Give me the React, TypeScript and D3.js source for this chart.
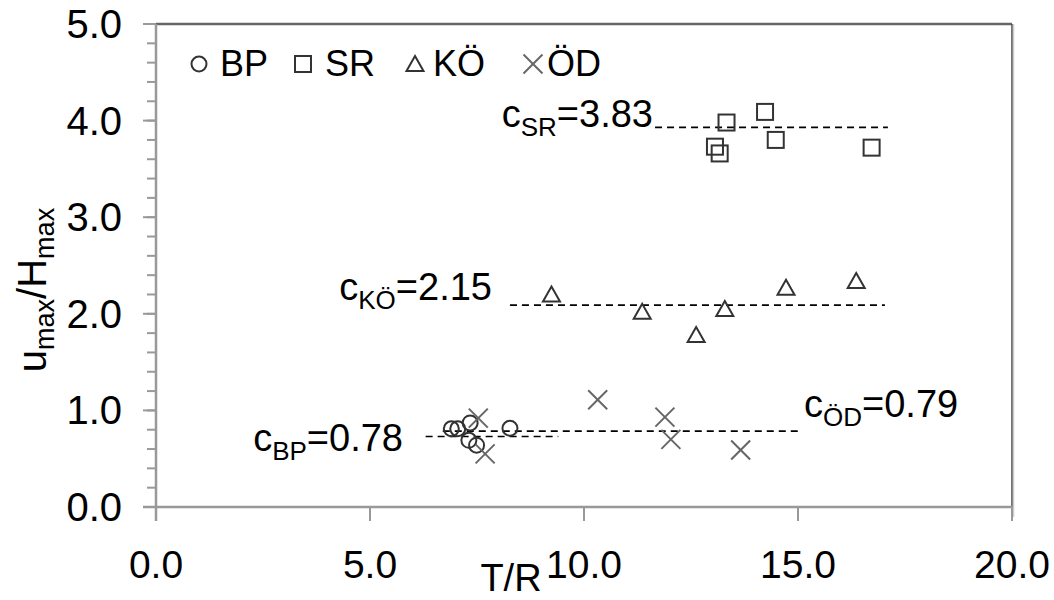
import React from "react";
import * as d3 from "d3";

const xTicks = [0, 5, 10, 15, 20];
const yTicks = [0, 1, 2, 3, 4, 5];
const xTickLabels = ["0.0", "5.0", "10.0", "15.0", "20.0"];
const yTickLabels = ["0.0", "1.0", "2.0", "3.0", "4.0", "5.0"];

const bpX = [6.9, 7.05, 7.34, 7.31, 7.49, 8.27];
const bpY = [0.81, 0.81, 0.87, 0.69, 0.64, 0.815];
const srX = [13.33, 14.23, 14.48, 13.06, 13.17, 16.72];
const srY = [3.98, 4.09, 3.8, 3.73, 3.66, 3.72];
const koX = [9.24, 11.36, 12.62, 13.29, 14.72, 16.36];
const koY = [2.2, 2.02, 1.78, 2.05, 2.27, 2.34];
const odX = [7.53, 7.69, 10.32, 11.89, 12.03, 13.66];
const odY = [0.92, 0.55, 1.11, 0.93, 0.7, 0.59];

// fitted constant lines: [x0, x1, y]
const srLine = [11.66, 17.1, 3.93];
const koLine = [8.27, 17.03, 2.09];
const bpLine = [6.3, 9.4, 0.73];
const odLine = [6.7, 15.05, 0.785];

const cValues = { SR: "3.83", KO: "2.15", BP: "0.78", OD: "0.79" };

const FONT = "'Liberation Sans', Arial, Helvetica, sans-serif";
const W = 1054;
const H = 600;
const left = 156, right = 1012, top = 24, bottom = 507;

const x = d3.scaleLinear().domain([0, 20]).range([left, right]);
const y = d3.scaleLinear().domain([0, 5]).range([bottom, top]);

const MK = "#333";

function Circle({ cx, cy }: { cx: number; cy: number }) {
  return <circle cx={cx} cy={cy} r={7.5} fill="none" stroke={MK} strokeWidth={2} />;
}
function Square({ cx, cy }: { cx: number; cy: number }) {
  return <rect x={cx - 8} y={cy - 8} width={16} height={16} fill="none" stroke={MK} strokeWidth={2} />;
}
function Tri({ cx, cy }: { cx: number; cy: number }) {
  const p = d3.path();
  p.moveTo(cx, cy - 8);
  p.lineTo(cx + 8.5, cy + 7);
  p.lineTo(cx - 8.5, cy + 7);
  p.closePath();
  return <path d={p.toString()} fill="none" stroke={MK} strokeWidth={2} strokeLinejoin="miter" />;
}
function Cross({ cx, cy }: { cx: number; cy: number }) {
  const s = 9.5;
  return (
    <g stroke="#666" strokeWidth={2}>
      <line x1={cx - s} y1={cy - s} x2={cx + s} y2={cy + s} />
      <line x1={cx - s} y1={cy + s} x2={cx + s} y2={cy - s} />
    </g>
  );
}

function FitLine({ l }: { l: number[] }) {
  return (
    <line x1={x(l[0])} x2={x(l[1])} y1={y(l[2])} y2={y(l[2])} stroke="#000" strokeWidth={1.6} strokeDasharray="7,5" />
  );
}

function CLabel({ px, py, sub, val, anchor }: { px: number; py: number; sub: string; val: string; anchor: string }) {
  return (
    <text x={px} y={py} fontSize={38} fontFamily={FONT} fill="#000" textAnchor={anchor}>
      c
      <tspan fontSize={26} dy={9}>{sub}</tspan>
      <tspan dy={-9}>={val}</tspan>
    </text>
  );
}

export default function App() {
  const minorY = d3.range(0, 5.0001, 0.2);
  return (
    <svg width={W} height={H} style={{ position: "absolute", left: 0, top: 0, background: "#fff" }}>
      <rect x={0} y={0} width={W} height={H} fill="#fff" />
      {/* plot frame */}
      <line x1={left} x2={right} y1={top} y2={top} stroke="#666" strokeWidth={2.5} />
      <line x1={right} x2={right} y1={top} y2={bottom} stroke="#444" strokeWidth={1.5} />
      <line x1={right + 1.5} x2={right + 1.5} y1={top} y2={bottom + 10} stroke="#ccc" strokeWidth={1.5} />
      {/* y axis */}
      <line x1={left} x2={left} y1={top} y2={bottom + 14} stroke="#999" strokeWidth={2.5} />
      {minorY.map((v, i) => (
        <line key={"m" + i} x1={left - 9} x2={left} y1={y(v)} y2={y(v)} stroke="#999" strokeWidth={2} />
      ))}
      {yTicks.map((v) => (
        <line key={"M" + v} x1={left - 13} x2={left} y1={y(v)} y2={y(v)} stroke="#999" strokeWidth={2} />
      ))}
      {yTicks.map((v, i) => (
        <text key={"yl" + v} x={122} y={y(v) + 14} textAnchor="end" fontSize={40} fontFamily={FONT} fill="#000">
          {yTickLabels[i]}
        </text>
      ))}
      {/* x axis */}
      <line x1={left - 13} x2={right} y1={bottom} y2={bottom} stroke="#999" strokeWidth={2.5} />
      {xTicks.map((v) => (
        <line key={"xt" + v} x1={x(v)} x2={x(v)} y1={bottom} y2={bottom + 14} stroke="#999" strokeWidth={2} />
      ))}
      {xTicks.map((v, i) => (
        <text key={"xl" + v} x={x(v)} y={578} textAnchor="middle" fontSize={39} fontFamily={FONT} fill="#000">
          {xTickLabels[i]}
        </text>
      ))}
      {/* axis titles */}
      <text x={511} y={591} textAnchor="middle" fontSize={38} fontFamily={FONT} fill="#000">T/R</text>
      <text transform="translate(46,290) rotate(-90)" textAnchor="middle" fontSize={40} fontFamily={FONT} fill="#000">
        u<tspan fontSize={27} dy={8}>max</tspan>
        <tspan dy={-8}>/H</tspan>
        <tspan fontSize={27} dy={8}>max</tspan>
      </text>

      {/* fit lines */}
      <FitLine l={srLine} />
      <FitLine l={koLine} />
      <FitLine l={bpLine} />
      <FitLine l={odLine} />

      {/* markers */}
      {srX.map((v, i) => <Square key={"s" + i} cx={x(v)} cy={y(srY[i])} />)}
      {koX.map((v, i) => <Tri key={"k" + i} cx={x(v)} cy={y(koY[i])} />)}
      {bpX.map((v, i) => <Circle key={"b" + i} cx={x(v)} cy={y(bpY[i])} />)}
      {odX.map((v, i) => <Cross key={"o" + i} cx={x(v)} cy={y(odY[i])} />)}

      {/* c labels */}
      <CLabel px={653} py={127} sub="SR" val={cValues.SR} anchor="end" />
      <CLabel px={492} py={300} sub="KÖ" val={cValues.KO} anchor="end" />
      <CLabel px={403} py={451} sub="BP" val={cValues.BP} anchor="end" />
      <CLabel px={804} py={417} sub="ÖD" val={cValues.OD} anchor="start" />

      {/* legend */}
      <Circle cx={199} cy={64} />
      <text x={220} y={76} fontSize={36} fontFamily={FONT} fill="#000">BP</text>
      <Square cx={303} cy={64} />
      <text x={325} y={76} fontSize={36} fontFamily={FONT} fill="#000">SR</text>
      <Tri cx={415} cy={64} />
      <text x={433} y={76} fontSize={36} fontFamily={FONT} fill="#000">KÖ</text>
      <Cross cx={533} cy={64} />
      <text x={547} y={76} fontSize={36} fontFamily={FONT} fill="#000">ÖD</text>
    </svg>
  );
}
